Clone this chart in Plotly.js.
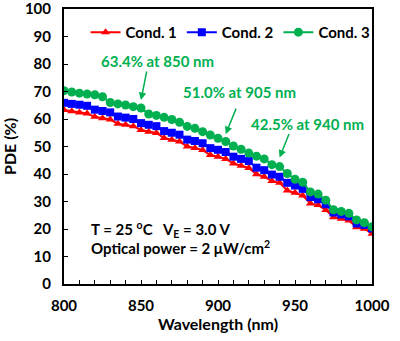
<!DOCTYPE html>
<html><head><meta charset="utf-8">
<script src="https://cdn.plot.ly/plotly-3.0.1.min.js"></script>
<style>html,body{margin:0;padding:0;background:#fff}#c{width:400px;height:341px}</style>
</head><body><div id="c"></div>
<script>
const wavelength = [800,805,810,815,820,825,830,835,840,845,850,855,860,865,870,875,880,885,890,895,900,905,910,915,920,925,930,935,940,945,950,955,960,965,970,975,980,985,990,995,1000];
const cond1 = [63.3,62.8,62.4,62.0,60.8,60.3,59.8,58.3,57.9,57.4,56.0,55.4,54.9,53.1,52.5,51.8,50.0,49.5,48.7,46.9,46.3,45.5,43.8,43.0,42.2,39.9,39.0,37.5,36.8,34.0,33.2,32.2,29.3,28.7,26.9,24.3,23.7,23.1,20.6,20.1,18.3];
const cond2 = [65.9,65.5,65.2,64.8,63.4,62.9,62.4,60.9,60.5,60.0,58.5,57.9,57.4,55.6,55.0,54.3,52.5,52.0,51.2,49.4,48.8,48.0,46.3,45.5,44.7,42.3,41.4,39.8,39.0,36.8,35.8,34.6,31.6,30.8,29.0,26.0,25.3,24.6,22.0,21.5,20.2];
const cond3 = [70.3,69.8,69.4,69.1,68.8,68.1,66.0,65.5,65.1,64.5,64.0,61.8,61.3,60.6,59.8,58.8,57.3,56.6,55.4,54.2,53.0,51.8,50.2,49.0,47.6,46.5,45.5,43.4,42.7,40.2,38.1,37.0,33.5,32.7,30.5,27.0,26.4,25.7,23.3,22.3,20.8];
const seriesNames = ['Cond. 1','Cond. 2','Cond. 3'];
const yTicks = [0,10,20,30,40,50,60,70,80,90,100];
const xTicks = [800,850,900,950,1000];
const notes = [
  {text:'63.4% at 850 nm', wl:850, pde:63.4},
  {text:'51.0% at 905 nm', wl:905, pde:51.0},
  {text:'42.5% at 940 nm', wl:940, pde:42.5}
];
const F = 'Lato, "Open Sans", sans-serif';
const green = '#00B050';
const traces = [
  {x:wavelength, y:cond1, name:seriesNames[0], mode:'lines+markers', line:{color:'#FF0000',width:2}, marker:{symbol:'triangle-up',size:8,color:'#FF0000'}},
  {x:wavelength, y:cond2, name:seriesNames[1], mode:'lines+markers', line:{color:'#0000FF',width:2}, marker:{symbol:'square',size:8,color:'#0000FF'}},
  {x:wavelength, y:cond3, name:seriesNames[2], mode:'lines+markers', line:{color:green,width:2}, marker:{symbol:'circle',size:9,color:green}}
];
const textPos = [[861,81.1],[914,69.8],[958.4,58.2]];
const tailOff = [[6,-30],[11,-27],[10,-25]];
const ann = notes.map((n,i)=>({x:n.wl, y:n.pde+3.5, xref:'x', yref:'y', showarrow:true, arrowhead:2, arrowsize:1, arrowwidth:1.5, arrowcolor:green, ax:tailOff[i][0], ay:tailOff[i][1], text:''}));
notes.forEach((n,i)=>ann.push({x:textPos[i][0], y:textPos[i][1], xref:'x', yref:'y', showarrow:false, text:n.text, font:{family:F,size:15,color:green,weight:'bold'}}));
ann.push({x:0.08, y:0.152, xref:'paper', yref:'paper', xanchor:'left', showarrow:false, text:'T = 25 <sup>o</sup>C   V<sub>E</sub> = 3.0 V', font:{family:F,size:15,color:'#000',weight:'bold'}});
ann.push({x:0.08, y:0.092, xref:'paper', yref:'paper', xanchor:'left', showarrow:false, text:'Optical power = 2 μW/cm<sup>2</sup>', font:{family:F,size:15,color:'#000',weight:'bold'}});
const layout = {
  width:400, height:341, margin:{l:64,r:28,t:9,b:57},
  paper_bgcolor:'#fff', plot_bgcolor:'#fff',
  font:{family:F, size:15, color:'#000', weight:'bold'},
  showlegend:true,
  legend:{orientation:'h', x:0.07, y:0.975, xanchor:'left', yanchor:'top', bgcolor:'rgba(0,0,0,0)', font:{family:F,size:15,weight:'bold'}, itemwidth:30},
  xaxis:{range:[800,1000], tickmode:'array', tickvals:xTicks, showline:true, linewidth:2, linecolor:'#000', mirror:true, ticks:'inside', ticklen:4, tickwidth:1, tickcolor:'#000', showgrid:false, zeroline:false,
    minor:{dtick:10, tick0:800, ticks:'inside', ticklen:4, tickcolor:'#000', showgrid:false},
    ticklabelstandoff:7, ticklabeloverflow:'allow',
    tickfont:{family:F,size:15,weight:'bold'}, title:{text:'Wavelength (nm)', font:{family:F,size:16,weight:'bold'}, standoff:5}},
  yaxis:{range:[0,100], tickmode:'array', tickvals:yTicks, showline:true, linewidth:2, linecolor:'#000', mirror:true, ticks:'inside', ticklen:4, tickwidth:1, tickcolor:'#000', showgrid:false, zeroline:false,
    ticklabelstandoff:8, ticklabeloverflow:'allow',
    tickfont:{family:F,size:15,weight:'bold'}, title:{text:'PDE (%)', font:{family:F,size:16,weight:'bold'}, standoff:8}},
  annotations:ann
};
Plotly.newPlot('c', traces, layout, {displayModeBar:false, staticPlot:true});
</script></body></html>
